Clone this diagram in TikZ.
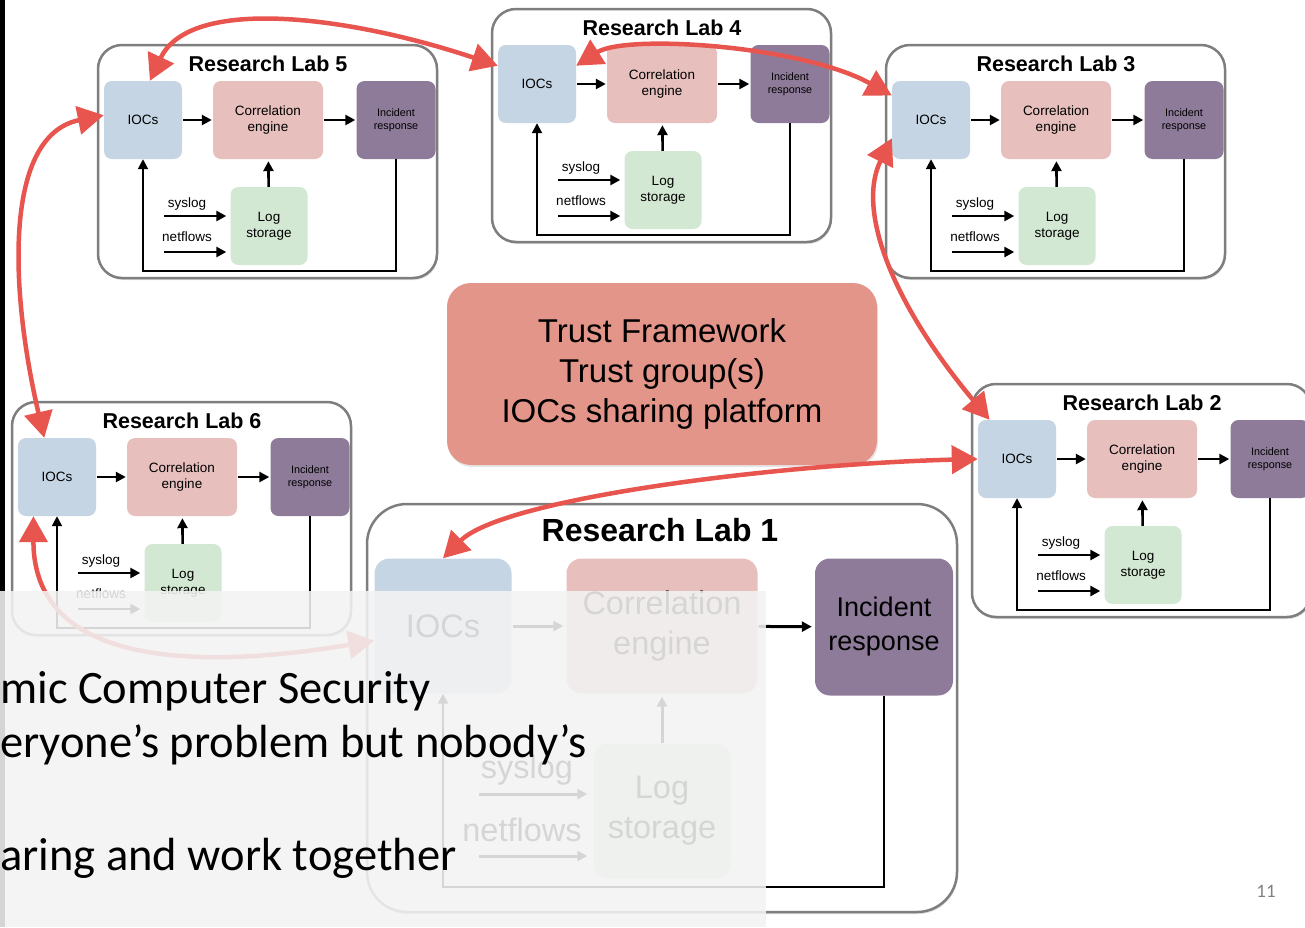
\documentclass[tikz,border=0pt]{standalone}
\usepackage{fontspec}
\setmainfont{Liberation Sans}
\newfontfamily\slidefont{Carlito}
\usetikzlibrary{arrows.meta,shadows}
\usepackage{xcolor}
\definecolor{iocblue}{HTML}{C5D5E3}
\definecolor{corpink}{HTML}{E7BFBD}
\definecolor{incpurple}{HTML}{8E7B9A}
\definecolor{loggreen}{HTML}{D3E8D3}
\definecolor{trustred}{HTML}{E39589}
\definecolor{shred}{HTML}{E8554F}
\definecolor{labgray}{HTML}{7E7E7E}
\definecolor{veilgray}{HTML}{F3F3F3}

\tikzset{
  labbox/.style={draw=labgray,line width=2.5pt,fill=white,rounded corners=24pt,
    minimum width=339pt,minimum height=233pt,inner sep=0pt,
    drop shadow={opacity=0.25,shadow xshift=1pt,shadow yshift=-2pt}},
  part/.style={rounded corners=8pt,inner sep=0pt,minimum height=78pt,align=center,
    font=\fontsize{13.5}{16}\selectfont},
  ioc/.style={part,fill=iocblue,minimum width=78pt},
  cor/.style={part,fill=corpink,minimum width=110pt},
  inc/.style={part,fill=incpurple,minimum width=79pt,font=\fontsize{10.8}{13.5}\selectfont},
  logst/.style={part,fill=loggreen,minimum width=77pt},
  labtitle/.style={font=\bfseries\fontsize{21.5}{24}\selectfont,inner sep=0pt},
  feed/.style={font=\fontsize{13.5}{16}\selectfont,inner sep=0pt},
  flow/.style={line width=2.6pt,-{Triangle[length=10pt,width=10pt]}},
  back/.style={line width=2pt,-{Triangle[length=10pt,width=10pt]}},
  share/.style={draw=shred,line width=4.5pt,line cap=round,
    {Triangle[length=26pt,width=28pt]}-{Triangle[length=26pt,width=28pt]}},
  veil/.style={fill=veilgray,fill opacity=0.88},
  slidetext/.style={font=\slidefont\fontsize{46.5}{56}\selectfont,inner sep=0pt,anchor=base west}
}

\newcommand{\lab}[2]{%
  \begin{scope}[shift={#2}]
    \node[labbox] (lab#1) at (169.5,116.5) {};
    \node[labtitle] (title#1) at (170,19) {Research Lab #1};
    \node[ioc] (ioc#1) at (45,75) {IOCs};
    \node[cor] (cor#1) at (170,75) {Correlation\\engine};
    \node[inc] (inc#1) at (298,75) {Incident\\response};
    \node[logst] (log#1) at (171,181) {Log\\storage};
    \node[feed] (syl#1) at (89,159) {syslog};
    \node[feed] (nfl#1) at (89,192) {netflows};
    \coordinate (sys#1) at (66,171);
    \coordinate (net#1) at (66,207);
    \coordinate (fb#1) at (45,226);
    \draw[flow,shorten <=1pt,shorten >=1pt] (ioc#1) -- (cor#1);
    \draw[flow,shorten <=1pt,shorten >=1pt] (cor#1) -- (inc#1);
    \draw[flow,shorten >=2pt] (log#1) -- (cor#1);
    \draw[flow,shorten >=4pt] (sys#1) -- (sys#1 -| log#1.west);
    \draw[flow,shorten >=4pt] (net#1) -- (net#1 -| log#1.west);
    \draw[back] (inc#1.south) |- (fb#1) -- (ioc#1.south);
  \end{scope}}

\begin{document}
\begin{tikzpicture}[x=1pt,y=-1pt]
\useasboundingbox (0,0) rectangle (1305,927);
\clip (0,0) rectangle (1305,927);
\fill[black] (0,0) rectangle (5,927);

\lab{5}{(98,45)}
\lab{4}{(492,9)}
\lab{3}{(886,45)}
\lab{6}{(12,402)}
\lab{2}{(972,384)}

\node[fill=trustred,rounded corners=24pt,minimum width=430pt,minimum height=182pt,
  align=center,font=\fontsize{33}{40}\selectfont,
  drop shadow={opacity=0.2,shadow xshift=1pt,shadow yshift=-2pt}] (trust) at (662,374)
  {Trust Framework\\Trust group(s)\\IOCs sharing platform};

\node[labbox,minimum width=590pt,minimum height=408pt,rounded corners=40pt] (lab1) at (662,708) {};
\node[labtitle,font=\bfseries\fontsize{32}{36}\selectfont] (title1) at (660,530) {Research Lab 1};
\node[ioc,rounded corners=15pt,minimum width=137pt,minimum height=135pt,font=\fontsize{32.5}{40}\selectfont] (ioc1) at (443,626) {IOCs};
\node[cor,rounded corners=15pt,minimum width=191pt,minimum height=135pt,font=\fontsize{32.5}{40}\selectfont] (cor1) at (662,626) {Correlation\\engine};
\node[inc,rounded corners=15pt,minimum width=138pt,minimum height=137pt,font=\fontsize{27}{34}\selectfont] (inc1) at (884,627) {Incident\\response};
\node[logst,rounded corners=15pt,minimum width=137pt,minimum height=135pt,font=\fontsize{32.5}{40}\selectfont] (log1) at (662,811) {Log\\storage};
\node[feed,font=\fontsize{32.5}{40}\selectfont] (syl1) at (527,770) {syslog};
\node[feed,font=\fontsize{32.5}{40}\selectfont] (nfl1) at (522,830) {netflows};
\coordinate (sys1) at (479,794);
\coordinate (net1) at (479,856);
\coordinate (fb1) at (443,887);
\draw[flow,line width=3pt,shorten <=1pt,shorten >=3pt] (ioc1) -- (cor1);
\draw[flow,line width=3pt,shorten <=1pt,shorten >=3pt] (cor1) -- (inc1);
\draw[flow,line width=3pt,shorten >=3pt] (log1) -- (cor1);
\draw[flow,line width=3pt,shorten >=6pt] (sys1) -- (sys1 -| log1.west);
\draw[flow,line width=3pt,shorten >=6pt] (net1) -- (net1 -| log1.west);
\draw[back,line width=2.5pt] (inc1.south) |- (fb1) -- (ioc1.south);

\draw[share] (ioc5.80) .. controls +(40,-85) and +(-150,-50) .. (ioc4.155);
\draw[share] (ioc4.25) .. controls +(50,-32) and +(-90,-50) .. (ioc3.148);
\draw[share] (ioc5.173) .. controls +(-100,20) and +(-35,-150) .. (ioc6.108);
\draw[share] (ioc3.205) .. controls +(-35,70) and +(-100,-120) .. (ioc2.125);
\draw[share] (ioc2.west) .. controls +(-200,5) and +(60,-60) .. (ioc1.north);
\draw[share] (ioc6.239) .. controls +(0,160) and +(-150,25) .. (ioc1.192);

\fill[veil] (0,591) rectangle (766,927);
\node[slidetext] (line1) at (0,703) {mic Computer Security};
\node[slidetext] (line2) at (0,757) {eryone’s problem but nobody’s};
\node[slidetext] (line3) at (0,870) {aring and work together};
\node[font=\slidefont\fontsize{19}{22}\selectfont,text=gray] (pnum) at (1266,891) {11};
\end{tikzpicture}
\end{document}
